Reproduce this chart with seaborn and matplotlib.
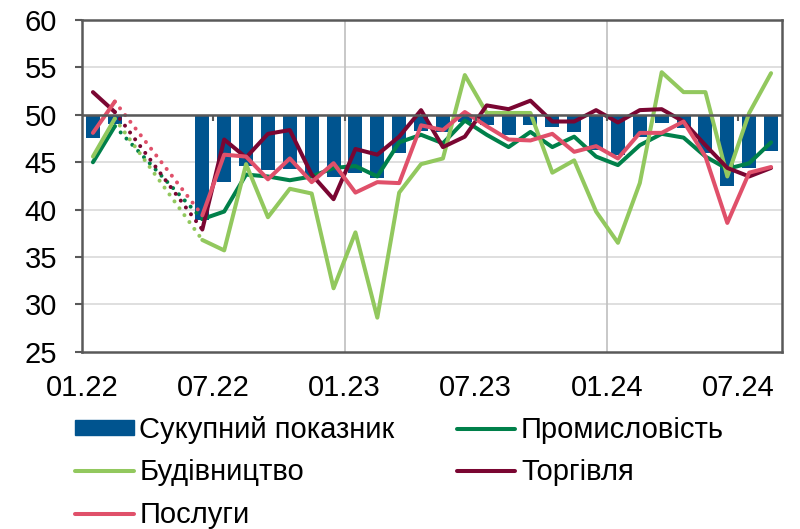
import numpy as np
import pandas as pd
import matplotlib
matplotlib.use("Agg")
import matplotlib.pyplot as plt
import seaborn as sns
from matplotlib.patches import Patch
from matplotlib.lines import Line2D

# months Jan 2022 .. Aug 2024, survey gap Mar-May 2022
months = pd.date_range("2022-01-01", "2024-08-01", freq="MS")
tick_labels = ["01.22", "07.22", "01.23", "07.23", "01.24", "07.24"]

composite = [47.6, 49.0, None, None, None, 38.9, 42.9, 44.6, 44.2, 44.3, 43.5, 43.4,
             43.9, 43.3, 46.0, 48.3, 48.2, 49.3, 48.9, 47.9, 48.9, 48.7, 48.2, 46.3,
             45.8, 47.7, 49.1, 48.6, 46.0, 42.5, 44.4, 46.2]
industry = [45.0, 48.8, None, None, None, 39.0, 39.8, 43.7, 43.5, 43.1, 43.5, 44.4,
            44.6, 43.5, 47.1, 47.9, 47.0, 49.4, 47.9, 46.6, 48.2, 46.6, 47.7, 45.6,
            44.7, 46.8, 48.0, 47.6, 45.6, 44.3, 44.9, 47.1]
construction = [45.6, 49.6, None, None, None, 36.8, 35.7, 44.8, 39.2, 42.2, 41.7, 31.7,
                37.6, 28.6, 41.8, 44.8, 45.4, 54.2, 50.2, 50.2, 50.2, 43.9, 45.2, 39.8,
                36.5, 42.8, 54.5, 52.4, 52.4, 43.5, 50.2, 54.4]
trade = [52.4, 50.3, None, None, None, 37.9, 47.4, 45.5, 48.0, 48.4, 43.7, 41.1,
         46.4, 45.8, 47.7, 50.5, 46.6, 47.7, 51.0, 50.6, 51.5, 49.3, 49.3, 50.5,
         49.2, 50.5, 50.6, 49.3, 46.8, 44.4, 43.5, 44.4]
services = [48.1, 51.4, None, None, None, 39.4, 45.8, 45.6, 43.2, 45.4, 42.9, 44.9,
            41.8, 42.9, 42.8, 48.9, 48.4, 50.3, 48.8, 47.4, 47.3, 48.0, 46.1, 46.7,
            45.4, 48.1, 48.1, 49.3, 45.6, 38.6, 43.9, 44.5]

names = ["Сукупний показник", "Промисловість", "Будівництво", "Торгівля", "Послуги"]
colors = {"Сукупний показник": "#00548F", "Промисловість": "#00804A",
          "Будівництво": "#92C85E", "Торгівля": "#7A0632", "Послуги": "#E0506A"}

df = pd.DataFrame({"x": np.arange(len(months)), "month": months,
                   names[0]: composite, names[1]: industry, names[2]: construction,
                   names[3]: trade, names[4]: services}).astype({n: float for n in names})

plt.rcParams["font.family"] = ["Liberation Sans", "DejaVu Sans"]
fig, ax = plt.subplots(figsize=(8, 5.29), dpi=100)
fig.subplots_adjust(left=0.1025, right=0.9775, top=0.962, bottom=0.335)

# bars hang from the 50 line
ax.bar(df["x"], df[names[0]] - 50, bottom=50, width=0.64, color=colors[names[0]], zorder=2)

lw = 2.9
for name in names[1:]:
    s = df[["x", name]].copy()
    valid = s[name].notna()
    before = s[valid & (s["x"] < 2)]
    after = s[valid & (s["x"] > 4)]
    sns.lineplot(data=before, x="x", y=name, color=colors[name], lw=lw, ax=ax,
                 zorder=3, solid_capstyle="round")
    sns.lineplot(data=after, x="x", y=name, color=colors[name], lw=lw, ax=ax,
                 zorder=3, solid_capstyle="round", solid_joinstyle="round")
    gap = pd.concat([before.tail(1), after.head(1)])
    ax.plot(gap["x"], gap[name], color=colors[name], lw=lw, zorder=3,
            linestyle=(0, (0.01, 2.1)), dash_capstyle="round")

ax.set_xlim(-0.5, 31.5)
ax.set_ylim(25, 60)
ax.set_yticks(range(25, 61, 5))
tick_pos = np.arange(len(tick_labels)) * 6 - 0.5
ax.set_xticks(tick_pos)
ax.set_xticklabels(tick_labels)
ax.set_xlabel("")
ax.set_ylabel("")

ax.grid(False)
for yv in range(30, 60, 5):
    ax.axhline(yv, color="#D9D9D9", lw=1.2, zorder=0)
for xv in tick_pos[2::2]:
    ax.axvline(xv, color="#BFBFBF", lw=1.2, zorder=0)
ax.axhline(50, color="#595959", lw=1.8, zorder=4)
ax.vlines(tick_pos, 49.35, 50, color="#595959", lw=1.5, zorder=4)

for sp in ax.spines.values():
    sp.set_color("#595959")
    sp.set_linewidth(1.8)
ax.tick_params(axis="y", length=5, width=1.5, color="#595959", labelsize=21, pad=13)
ax.tick_params(axis="x", length=0, labelsize=21, pad=16)

bar_handle = Patch(color=colors[names[0]])
line_handles = {n: Line2D([], [], color=colors[n], lw=lw, solid_capstyle="round") for n in names[1:]}
legend_kw = dict(loc="upper left", frameon=False, fontsize=21, handlelength=2.0,
                 handleheight=0.45, handletextpad=0.2, labelspacing=0.5,
                 borderaxespad=0, borderpad=0)
fig.legend([bar_handle, line_handles[names[2]], line_handles[names[4]]],
           [names[0], names[2], names[4]], bbox_to_anchor=(0.094, 0.214), **legend_kw)
fig.legend([line_handles[names[1]], line_handles[names[3]]],
           [names[1], names[3]], bbox_to_anchor=(0.571, 0.214), **legend_kw)

fig.savefig("out.png", dpi=100)
